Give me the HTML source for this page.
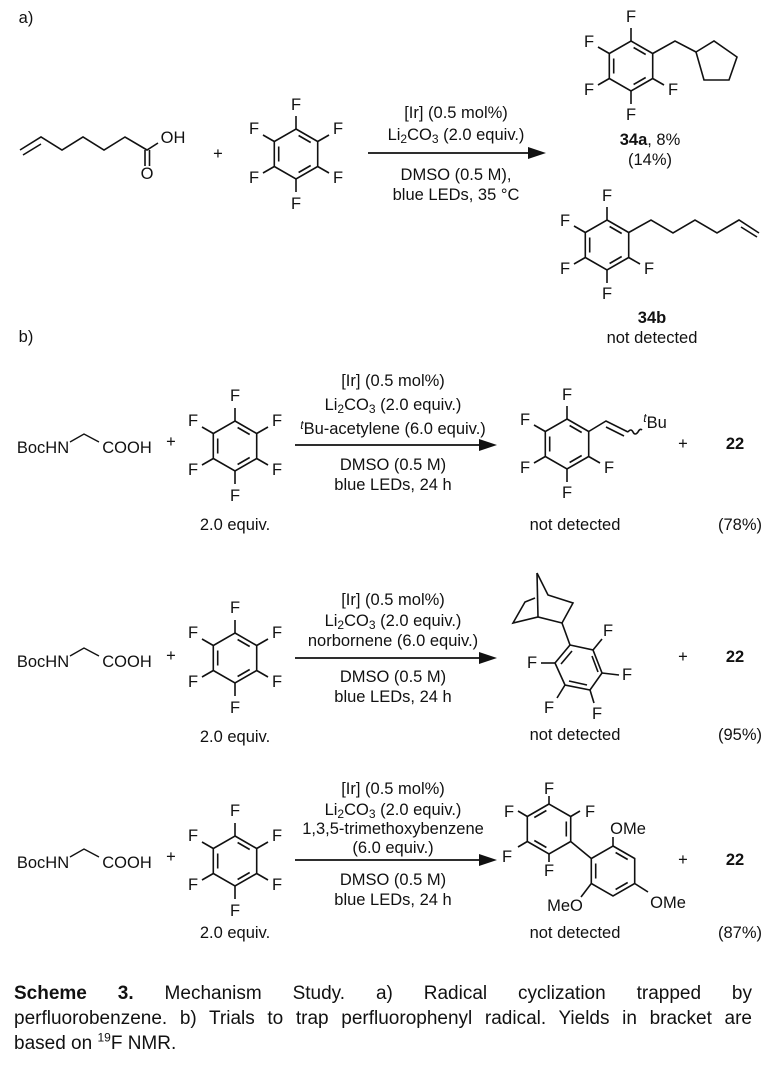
<!DOCTYPE html>
<html><head><meta charset="utf-8"><style>
html,body{margin:0;padding:0;background:#fff;width:766px;height:1068px;overflow:hidden}
svg{position:absolute;left:0;top:0}
svg text{font-family:"Liberation Sans",Arial,sans-serif;font-size:16.5px;fill:#111}
.cap{position:absolute;left:14px;width:738px;font-family:"Liberation Sans",Arial,sans-serif;font-size:19px;color:#111;white-space:nowrap;text-align:justify;text-align-last:justify;line-height:22px}
</style></head><body>
<svg width="766" height="1068" viewBox="0 0 766 1068" xmlns="http://www.w3.org/2000/svg">
<defs>
<g id="hx" fill="none" stroke="#111" stroke-width="1.6">
<polygon points="0,-25 21.7,-12.5 21.7,12.5 0,25 -21.7,12.5 -21.7,-12.5"/>
<line x1="2.6" y1="-18.5" x2="14.7" y2="-11.5"/>
<line x1="-17.3" y1="-7.5" x2="-17.3" y2="7.5"/>
<line x1="14.7" y1="11.5" x2="2.6" y2="18.5"/>
</g>
<g id="sub6" stroke="#111" stroke-width="1.6">
<line x1="0" y1="-25" x2="0" y2="-38"/>
<line x1="21.7" y1="-12.5" x2="33" y2="-19"/>
<line x1="21.7" y1="12.5" x2="33" y2="19"/>
<line x1="0" y1="25" x2="0" y2="38"/>
<line x1="-21.7" y1="12.5" x2="-33" y2="19"/>
<line x1="-21.7" y1="-12.5" x2="-33" y2="-19"/>
</g>
</defs>
<g dominant-baseline="central" text-anchor="middle">
<text x="26" y="18">a)</text>
<text x="26" y="337">b)</text>

<polyline points="20,150 41,137 62,150 83,137 104,150 125,137 147,150 158,143" fill="none" stroke="#111" stroke-width="1.6"/>
<line x1="23" y1="155" x2="41" y2="144" stroke="#111" stroke-width="1.6"/>
<line x1="145" y1="150" x2="145" y2="166" stroke="#111" stroke-width="1.6"/>
<line x1="149.5" y1="150" x2="149.5" y2="166" stroke="#111" stroke-width="1.6"/>
<text x="173" y="138">OH</text>
<text x="147" y="174">O</text>
<text x="218" y="154">+</text>

<use href="#hx" transform="translate(296,154)"/><use href="#sub6" transform="translate(296,154)"/>
<text x="296" y="105">F</text><text x="338" y="129">F</text><text x="338" y="178">F</text><text x="296" y="204">F</text><text x="254" y="178">F</text><text x="254" y="129">F</text>

<line x1="368" y1="153" x2="532" y2="153" stroke="#111" stroke-width="1.8"/>
<polygon points="546,153 528,147 528,159" fill="#111"/>
<text x="456" y="113">[Ir] (0.5 mol%)</text>
<text x="456" y="135">Li<tspan font-size="12" dy="4">2</tspan><tspan dy="-4">CO</tspan><tspan font-size="12" dy="4">3</tspan><tspan dy="-4"> (2.0 equiv.)</tspan></text>
<text x="456" y="175">DMSO (0.5 M),</text>
<text x="456" y="195">blue LEDs, 35 °C</text>

<use href="#hx" transform="translate(631,66)"/>
<g stroke="#111" stroke-width="1.6" fill="none">
<line x1="631" y1="41" x2="631" y2="28"/><line x1="609.3" y1="53.5" x2="598" y2="47"/><line x1="609.3" y1="78.5" x2="598" y2="85"/><line x1="631" y1="91" x2="631" y2="104"/><line x1="652.7" y1="78.5" x2="664" y2="85"/>
<polyline points="652.7,53.5 675,41 696,52"/>
<polygon points="696,52 714,41 737,57 729,80 704,80"/>
</g>
<text x="631" y="17">F</text><text x="589" y="42">F</text><text x="589" y="90">F</text><text x="631" y="115">F</text><text x="673" y="90">F</text>
<text x="650" y="140"><tspan font-weight="bold">34a</tspan>, 8%</text>
<text x="650" y="160">(14%)</text>

<use href="#hx" transform="translate(607,245)"/>
<g stroke="#111" stroke-width="1.6" fill="none">
<line x1="607" y1="220" x2="607" y2="207"/><line x1="585.3" y1="232.5" x2="574" y2="226"/><line x1="585.3" y1="257.5" x2="574" y2="264"/><line x1="607" y1="270" x2="607" y2="283"/><line x1="628.7" y1="257.5" x2="640" y2="264"/>
<polyline points="628.7,232.5 651,220 673,233 695,220 717,233 739,220 759,233"/>
<line x1="741" y1="227" x2="757" y2="237"/>
</g>
<text x="607" y="196">F</text><text x="565" y="221">F</text><text x="565" y="269">F</text><text x="607" y="294">F</text><text x="649" y="269">F</text>
<text x="652" y="318" font-weight="bold">34b</text>
<text x="652" y="338">not detected</text>

<text x="43" y="448">BocHN</text>
<polyline points="70,442 84,434 99,442" fill="none" stroke="#111" stroke-width="1.4"/>
<text x="127" y="448">COOH</text>
<text x="171" y="442">+</text>
<use href="#hx" transform="translate(235,446)"/><use href="#sub6" transform="translate(235,446)"/>
<text x="235" y="396">F</text><text x="277" y="421">F</text><text x="277" y="470">F</text><text x="235" y="496">F</text><text x="193" y="470">F</text><text x="193" y="421">F</text>
<text x="235" y="525">2.0 equiv.</text>

<line x1="295" y1="445" x2="483" y2="445" stroke="#111" stroke-width="1.8"/>
<polygon points="497,445 479,439 479,451" fill="#111"/>
<text x="393" y="381">[Ir] (0.5 mol%)</text>
<text x="393" y="405">Li<tspan font-size="12" dy="4">2</tspan><tspan dy="-4">CO</tspan><tspan font-size="12" dy="4">3</tspan><tspan dy="-4"> (2.0 equiv.)</tspan></text>
<text x="393" y="429"><tspan font-style="italic" font-size="12" dy="-4">t</tspan><tspan dy="4">Bu-acetylene (6.0 equiv.)</tspan></text>
<text x="393" y="465">DMSO (0.5 M)</text>
<text x="393" y="485">blue LEDs, 24 h</text>

<use href="#hx" transform="translate(567,444)"/>
<g stroke="#111" stroke-width="1.6" fill="none">
<line x1="567" y1="419" x2="567" y2="406"/><line x1="545.3" y1="431.5" x2="534" y2="425"/><line x1="545.3" y1="456.5" x2="534" y2="463"/><line x1="567" y1="469" x2="567" y2="482"/><line x1="588.7" y1="456.5" x2="600" y2="463"/>
<polyline points="588.7,431.5 606,421 628,432"/>
<line x1="606" y1="427" x2="624" y2="436"/>
<path d="M628,432 q3,-4 5,0 q2,4 5,0 q2,-4 4,-2"/>
</g>
<text x="567" y="395">F</text><text x="525" y="420">F</text><text x="525" y="468">F</text><text x="567" y="493">F</text><text x="609" y="468">F</text>
<text x="655" y="423"><tspan font-style="italic" font-size="12" dy="-5">t</tspan><tspan dy="5">Bu</tspan></text>
<text x="683" y="444">+</text>
<text x="735" y="444" font-weight="bold">22</text>
<text x="575" y="525">not detected</text>
<text x="740" y="525">(78%)</text>

<text x="43" y="662">BocHN</text>
<polyline points="70,656 84,648 99,656" fill="none" stroke="#111" stroke-width="1.4"/>
<text x="127" y="662">COOH</text>
<text x="171" y="656">+</text>
<use href="#hx" transform="translate(235,658)"/><use href="#sub6" transform="translate(235,658)"/>
<text x="235" y="608">F</text><text x="277" y="633">F</text><text x="277" y="682">F</text><text x="235" y="708">F</text><text x="193" y="682">F</text><text x="193" y="633">F</text>
<text x="235" y="737">2.0 equiv.</text>
<line x1="295" y1="658" x2="483" y2="658" stroke="#111" stroke-width="1.8"/>
<polygon points="497,658 479,652 479,664" fill="#111"/>
<text x="393" y="600">[Ir] (0.5 mol%)</text>
<text x="393" y="621">Li<tspan font-size="12" dy="4">2</tspan><tspan dy="-4">CO</tspan><tspan font-size="12" dy="4">3</tspan><tspan dy="-4"> (2.0 equiv.)</tspan></text>
<text x="393" y="641">norbornene (6.0 equiv.)</text>
<text x="393" y="677">DMSO (0.5 M)</text>
<text x="393" y="697">blue LEDs, 24 h</text>
<g stroke="#111" stroke-width="1.6" fill="none">
<polyline points="537,573 548,595 573,603 562,623 538,617 513,623 525,602 535,598"/>
<line x1="537" y1="573" x2="538" y2="617"/>
<line x1="562" y1="623" x2="570" y2="645"/>
<polygon points="570,645 593,650 602,673 590,690 565,685 555,663"/>
<line x1="572" y1="651" x2="561" y2="664"/>
<line x1="592" y1="656" x2="598" y2="672"/>
<line x1="587" y1="685" x2="569" y2="681"/>
<line x1="593" y1="650" x2="602" y2="639"/><line x1="555" y1="663" x2="541" y2="663"/><line x1="602" y1="673" x2="619" y2="675"/><line x1="565" y1="685" x2="557" y2="698"/><line x1="590" y1="690" x2="594" y2="703"/>
</g>
<text x="608" y="631">F</text><text x="532" y="663">F</text><text x="627" y="675">F</text><text x="549" y="708">F</text><text x="597" y="714">F</text>
<text x="683" y="657">+</text>
<text x="735" y="657" font-weight="bold">22</text>
<text x="575" y="735">not detected</text>
<text x="740" y="735">(95%)</text>

<text x="43" y="863">BocHN</text>
<polyline points="70,857 84,849 99,857" fill="none" stroke="#111" stroke-width="1.4"/>
<text x="127" y="863">COOH</text>
<text x="171" y="857">+</text>
<use href="#hx" transform="translate(235,861)"/><use href="#sub6" transform="translate(235,861)"/>
<text x="235" y="811">F</text><text x="277" y="836">F</text><text x="277" y="885">F</text><text x="235" y="911">F</text><text x="193" y="885">F</text><text x="193" y="836">F</text>
<text x="235" y="933">2.0 equiv.</text>
<line x1="295" y1="860" x2="483" y2="860" stroke="#111" stroke-width="1.8"/>
<polygon points="497,860 479,854 479,866" fill="#111"/>
<text x="393" y="789">[Ir] (0.5 mol%)</text>
<text x="393" y="810">Li<tspan font-size="12" dy="4">2</tspan><tspan dy="-4">CO</tspan><tspan font-size="12" dy="4">3</tspan><tspan dy="-4"> (2.0 equiv.)</tspan></text>
<text x="393" y="829">1,3,5-trimethoxybenzene</text>
<text x="393" y="848">(6.0 equiv.)</text>
<text x="393" y="880">DMSO (0.5 M)</text>
<text x="393" y="900">blue LEDs, 24 h</text>
<g transform="translate(549,829)"><use href="#hx" transform="scale(-1,1)"/></g>
<use href="#hx" transform="translate(613,871)"/>
<g stroke="#111" stroke-width="1.6" fill="none">
<line x1="549" y1="804" x2="549" y2="796"/><line x1="527.3" y1="816.5" x2="518" y2="811"/><line x1="527.3" y1="841.5" x2="518" y2="847"/><line x1="549" y1="854" x2="549" y2="862"/><line x1="570.7" y1="816.5" x2="580" y2="811"/>
<line x1="570.7" y1="841.5" x2="591.3" y2="858.5"/>
<line x1="613" y1="846" x2="613" y2="837"/>
<line x1="591.3" y1="883.5" x2="581" y2="897"/>
<line x1="634.7" y1="883.5" x2="648" y2="892"/>
</g>
<text x="549" y="789">F</text><text x="509" y="812">F</text><text x="590" y="812">F</text><text x="507" y="857">F</text><text x="549" y="871">F</text>
<text x="628" y="829">OMe</text>
<text x="565" y="906">MeO</text>
<text x="668" y="903">OMe</text>
<text x="683" y="860">+</text>
<text x="735" y="860" font-weight="bold">22</text>
<text x="575" y="933">not detected</text>
<text x="740" y="933">(87%)</text>
</g>
</svg>
<div class="cap" style="top:983px"><b>Scheme 3.</b> Mechanism Study. a) Radical cyclization trapped by</div>
<div class="cap" style="top:1008px">perfluorobenzene. b) Trials to trap perfluorophenyl radical. Yields in bracket are</div>
<div class="cap" style="top:1033px;text-align:left;text-align-last:left">based on <sup style="font-size:12px;line-height:0">19</sup>F NMR.</div>
</body></html>
